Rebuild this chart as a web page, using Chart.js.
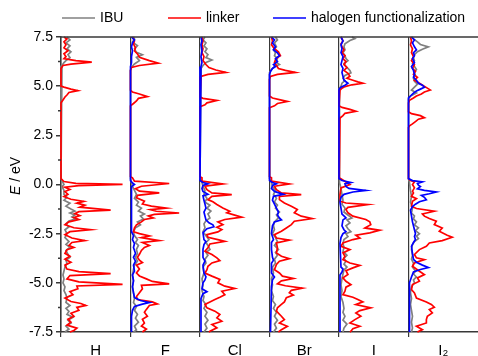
<!DOCTYPE html>
<html lang="en">
<head>
<meta charset="UTF-8">
<title>Projected density of states</title>
<script src="https://cdn.jsdelivr.net/npm/chart.js"></script>
<style>
  body { margin: 0; background: #ffffff; }
  canvas { display: block; }
</style>
</head>
<body>
<canvas id="dosChart" width="478" height="356"></canvas>
<script>
const panels = ['H', 'F', 'Cl', 'Br', 'I', 'I₂'];
const seriesNames = ['IBU', 'linker', 'halogen functionalization'];
const seriesColors = ['#808080', '#ff0000', '#0000ff'];
const energyTicks = [-7.5, -5, -2.5, 0, 2.5, 5, 7.5];
const minorTicks = [-6.25, -3.75, -1.25, 1.25, 3.75, 6.25];

// each series is a list of [energy in eV, DOS] pairs, top to bottom
const hIbu = [[7.5,0.6],[7.35,0.9],[7.2,0.5],[7.05,0.9],[6.9,0.6],[6.75,1.0],[6.6,0.7],[6.45,0.9],[6.3,0.5],[6.2,0.3],[6.05,0.1],[5.9,0],
  [0.3,0],[0.1,0.2],[0.0,0.3],[-0.1,0.1],[-0.3,0.3],[-0.5,0.3],[-0.65,0.6],[-0.8,0.3],[-0.95,0.9],[-1.1,0.5],[-1.25,1.0],[-1.35,1.4],[-1.45,0.9],[-1.55,1.4],[-1.65,1.1],[-1.75,1.5],[-1.85,0.8],[-2.0,0.5],[-2.15,0.8],[-2.3,0.4],[-2.5,0.6],[-2.7,0.4],[-2.9,0.8],[-3.05,0.5],[-3.2,0.9],[-3.35,0.5],[-3.55,0.7],[-3.7,0.9],[-3.85,0.5],[-4.0,0.6],[-4.2,0.4],[-4.4,0.3],[-4.6,0.2],[-4.8,0.3],[-5.0,0.2],[-5.2,0.4],[-5.4,0.3],[-5.6,0.5],[-5.8,0.6],[-6.0,0.5],[-6.15,0.9],[-6.3,0.5],[-6.45,0.8],[-6.6,0.6],[-6.75,1.2],[-6.9,0.7],[-7.05,1.0],[-7.2,0.5],[-7.35,0.8],[-7.5,0.4]];
const hLinker = [[7.5,0.3],[7.4,0.6],[7.25,0.3],[7.1,0.5],[6.95,0.3],[6.8,0.7],[6.65,0.3],[6.5,0.5],[6.4,0.3],[6.3,1.5],[6.22,3.1],[6.12,1.0],[6.05,0.2],[5.9,0],
  [5.0,0],[4.95,0.3],[4.85,1.0],[4.77,1.7],[4.68,0.8],[4.55,0.6],[4.45,0.4],[4.3,0.2],[4.15,0],
  [0.3,0],[0.15,0.3],[0.06,1.5],[0.01,6.2],[-0.06,1.8],[-0.14,0.4],[-0.25,0.9],[-0.36,0.4],[-0.5,0.7],[-0.62,0.3],[-0.75,1.0],[-0.86,2.3],[-0.95,1.6],[-1.05,2.4],[-1.15,1.9],[-1.3,5.0],[-1.38,1.8],[-1.48,1.4],[-1.58,1.9],[-1.68,1.3],[-1.78,1.8],[-1.9,0.8],[-2.05,0.4],[-2.2,1.3],[-2.3,3.0],[-2.4,0.9],[-2.55,0.4],[-2.72,1.1],[-2.85,2.4],[-2.95,1.1],[-3.1,0.8],[-3.2,1.3],[-3.32,0.6],[-3.5,0.4],[-3.65,0.9],[-3.8,0.4],[-3.95,1.0],[-4.1,0.4],[-4.3,0.6],[-4.43,1.8],[-4.53,5.0],[-4.63,0.9],[-4.8,0.6],[-4.95,1.8],[-5.08,6.2],[-5.16,1.6],[-5.3,1.7],[-5.45,0.9],[-5.6,1.2],[-5.78,0.4],[-5.95,1.0],[-6.05,2.0],[-6.15,2.5],[-6.25,1.6],[-6.4,1.8],[-6.55,1.0],[-6.7,1.3],[-6.85,0.7],[-7.0,1.0],[-7.15,0.6],[-7.3,1.6],[-7.42,1.3],[-7.5,0.9]];

const fIbu = [[7.5,0.3],[7.4,0.4],[7.24,0.2],[7.06,0.7],[6.9,0.4],[6.72,0.6],[6.6,1.2],[6.47,0.6],[6.3,0.9],[6.13,0.4],[5.96,0.1],[5.8,0],
  [0.3,0],[0.1,0.1],[-0.1,0.2],[-0.3,0.4],[-0.5,0.6],[-0.7,0.4],[-0.9,0.8],[-1.05,0.6],[-1.2,1.1],[-1.35,0.8],[-1.5,1.4],[-1.6,1.0],[-1.75,1.3],[-1.9,0.7],[-2.05,1.0],[-2.2,0.5],[-2.4,0.3],[-2.6,0.4],[-2.8,0.7],[-2.95,0.5],[-3.1,0.8],[-3.3,0.6],[-3.5,0.7],[-3.7,0.5],[-3.9,0.7],[-4.1,0.4],[-4.3,0.3],[-4.6,0.2],[-4.9,0.3],[-5.2,0.2],[-5.5,0.3],[-5.8,0.4],[-6.0,0.3],[-6.2,0.6],[-6.4,0.4],[-6.6,0.7],[-6.8,0.5],[-7.0,0.8],[-7.2,0.4],[-7.4,0.6],[-7.5,0.3]];
const fLinker = [[7.5,0.2],[7.3,0.4],[7.15,0.3],[6.95,0.5],[6.8,0.4],[6.64,0.7],[6.47,0.9],[6.3,1.9],[6.17,2.8],[6.05,0.9],[5.95,0.1],[5.8,0],
  [4.8,0],[4.7,0.2],[4.6,0.9],[4.47,1.7],[4.38,0.8],[4.25,0.6],[4.12,0.3],[4.0,0],
  [0.4,0],[0.34,0.2],[0.17,0.4],[0.05,3.9],[-0.09,1.1],[-0.21,0.5],[-0.34,0.9],[-0.43,2.9],[-0.55,0.7],[-0.68,0.6],[-0.85,1.4],[-0.99,1.2],[-1.1,2.1],[-1.2,3.6],[-1.28,2.0],[-1.36,2.6],[-1.45,4.9],[-1.52,2.4],[-1.6,1.8],[-1.7,2.3],[-1.78,1.4],[-1.9,1.1],[-2.05,0.6],[-2.2,0.4],[-2.4,0.3],[-2.5,0.9],[-2.62,1.9],[-2.7,1.1],[-2.85,2.9],[-2.95,1.2],[-3.1,1.9],[-3.2,1.4],[-3.35,1.1],[-3.55,0.9],[-3.7,0.7],[-3.85,0.9],[-3.97,1.2],[-4.1,0.6],[-4.3,0.9],[-4.5,0.6],[-4.65,0.9],[-4.8,1.6],[-4.93,2.2],[-5.05,3.9],[-5.13,1.1],[-5.3,1.2],[-5.5,0.9],[-5.7,0.6],[-5.85,0.7],[-5.97,2.2],[-6.07,2.7],[-6.15,1.9],[-6.35,1.6],[-6.5,1.4],[-6.7,1.7],[-6.85,1.2],[-7.05,1.4],[-7.2,1.1],[-7.35,1.6],[-7.5,1.2]];
const fHalogen = [[7.5,0.1],[7.35,0.4],[7.2,0.2],[7.0,0.1],[6.8,0.2],[6.5,0.1],[6.2,0.1],[6.0,0],
  [0.2,0],[0.08,0.2],[0.0,0.4],[-0.1,0.1],[-0.4,0.1],[-1.0,0.1],[-2.4,0.1],[-2.6,0.3],[-2.8,0.2],[-3.0,0.4],[-3.2,0.3],[-3.5,0.5],[-3.7,0.3],[-3.9,0.5],[-4.1,0.3],[-4.4,0.4],[-4.6,0.2],[-4.9,0.3],[-5.2,0.2],[-5.5,0.3],[-5.75,0.4],[-5.9,1.0],[-6.0,1.9],[-6.08,1.2],[-6.2,0.4],[-6.4,0.2],[-6.7,0.1],[-7.5,0.1]];

const clIbu = [[7.5,0.5],[7.35,0.3],[7.2,0.6],[7.05,0.4],[6.9,0.7],[6.75,0.5],[6.6,0.8],[6.45,0.6],[6.33,1.2],[6.2,0.6],[6.05,0.3],[5.9,0.1],[5.7,0],
  [0.3,0],[0.1,0.2],[-0.1,0.3],[-0.3,0.5],[-0.5,0.4],[-0.7,0.7],[-0.9,0.5],[-1.05,1.0],[-1.2,0.7],[-1.35,1.1],[-1.5,0.8],[-1.7,1.0],[-1.85,0.6],[-2.0,0.4],[-2.2,0.5],[-2.4,0.3],[-2.6,0.6],[-2.8,0.9],[-2.95,0.6],[-3.1,0.8],[-3.3,1.0],[-3.45,0.6],[-3.6,0.8],[-3.8,0.5],[-4.0,0.6],[-4.2,0.3],[-4.5,0.4],[-4.8,0.2],[-5.1,0.3],[-5.4,0.2],[-5.7,0.4],[-5.9,0.3],[-6.1,0.6],[-6.3,0.4],[-6.5,0.7],[-6.7,0.5],[-6.9,0.8],[-7.1,0.5],[-7.3,0.7],[-7.5,0.4]];
const clLinker = [[7.5,0.2],[7.3,0.3],[7.1,0.2],[6.9,0.3],[6.7,0.2],[6.5,0.4],[6.3,0.3],[6.1,0.6],[5.95,0.9],[5.82,1.6],[5.7,2.6],[5.6,0.8],[5.5,0.1],[5.35,0],
  [4.45,0],[4.38,0.3],[4.27,1.7],[4.15,0.7],[4.05,0.5],[3.95,0],
  [0.4,0],[0.34,0.2],[0.17,0.2],[0.03,2.3],[-0.09,0.5],[-0.26,0.7],[-0.43,1.2],[-0.51,3.2],[-0.6,1.2],[-0.77,0.8],[-0.88,1.3],[-1.02,1.7],[-1.19,2.3],[-1.36,3.0],[-1.44,2.7],[-1.56,3.5],[-1.66,4.2],[-1.78,2.5],[-1.9,1.8],[-2.04,2.3],[-2.17,1.7],[-2.29,2.2],[-2.41,1.8],[-2.55,0.7],[-2.68,0.8],[-2.8,1.8],[-2.89,2.5],[-3.02,1.0],[-3.22,0.8],[-3.39,0.5],[-3.56,1.2],[-3.73,1.7],[-3.87,2.0],[-3.99,1.2],[-4.16,0.8],[-4.33,0.7],[-4.5,0.5],[-4.66,1.2],[-4.83,2.0],[-5.0,1.8],[-5.17,2.5],[-5.29,3.5],[-5.43,2.2],[-5.6,2.5],[-5.73,2.0],[-5.85,1.5],[-5.97,1.0],[-6.1,0.5],[-6.27,0.7],[-6.44,1.5],[-6.61,2.0],[-6.78,1.7],[-6.95,2.2],[-7.12,1.2],[-7.29,1.7],[-7.46,1.0],[-7.5,0.9]];
const clHalogen = [[7.5,0.1],[7.3,0.2],[7.1,0.1],[6.8,0.2],[6.5,0.1],[6.2,0.2],[6.0,0.1],[5.8,0],
  [0.2,0],[0.1,0.3],[0.03,0.8],[-0.05,0.3],[-0.2,0.2],[-0.35,0.3],[-0.5,0.8],[-0.58,0.3],[-0.8,0.4],[-1.0,0.5],[-1.2,0.6],[-1.4,0.4],[-1.6,0.5],[-1.8,0.6],[-1.95,0.9],[-2.05,1.3],[-2.15,1.4],[-2.25,0.7],[-2.45,0.3],[-2.8,0.4],[-2.9,0.6],[-3.05,0.4],[-3.3,0.3],[-3.7,0.3],[-3.9,0.5],[-4.1,0.3],[-4.5,0.4],[-4.7,0.6],[-4.85,0.5],[-5.0,0.3],[-5.3,0.2],[-5.45,0.7],[-5.55,0.3],[-5.8,0.1],[-7.5,0.1]];

const brIbu = [[7.5,0.6],[7.35,0.8],[7.2,0.5],[7.0,0.7],[6.85,0.4],[6.7,0.6],[6.55,0.5],[6.4,0.8],[6.25,0.6],[6.1,1.0],[6.0,0.5],[5.85,0.2],[5.7,0],
  [0.3,0],[0.1,0.2],[-0.1,0.3],[-0.3,0.6],[-0.5,0.4],[-0.7,0.7],[-0.9,0.5],[-1.05,0.8],[-1.2,0.6],[-1.4,1.0],[-1.55,0.7],[-1.7,0.9],[-1.9,0.5],[-2.1,0.4],[-2.3,0.5],[-2.5,0.3],[-2.7,0.6],[-2.9,0.8],[-3.1,0.5],[-3.3,0.9],[-3.45,0.6],[-3.6,0.8],[-3.8,0.5],[-4.0,0.6],[-4.2,0.3],[-4.5,0.4],[-4.8,0.2],[-5.1,0.3],[-5.4,0.2],[-5.7,0.4],[-5.9,0.3],[-6.1,0.6],[-6.3,0.4],[-6.5,0.7],[-6.7,0.5],[-6.9,0.8],[-7.1,0.5],[-7.3,0.7],[-7.5,0.4]];
const brLinker = [[7.5,0.2],[7.3,0.3],[7.1,0.2],[6.9,0.5],[6.75,0.9],[6.55,1.1],[6.45,0.8],[6.35,0.6],[6.2,0.5],[6.05,0.7],[5.9,0.9],[5.8,1.6],[5.7,2.6],[5.6,0.8],[5.5,0.1],[5.35,0],
  [4.5,0],[4.4,0.3],[4.3,1.1],[4.22,1.8],[4.12,0.8],[4.0,0.5],[3.9,0],
  [0.4,0],[0.34,0.2],[0.17,0.2],[0.03,2.0],[-0.09,0.5],[-0.26,0.7],[-0.43,1.2],[-0.51,3.2],[-0.61,1.0],[-0.77,1.0],[-0.94,1.5],[-1.11,2.2],[-1.27,2.8],[-1.44,2.5],[-1.61,3.2],[-1.73,4.3],[-1.87,2.5],[-2.04,2.2],[-2.21,1.7],[-2.38,1.2],[-2.55,0.5],[-2.72,0.7],[-2.83,2.0],[-2.97,0.7],[-3.22,0.8],[-3.48,0.7],[-3.65,1.2],[-3.77,2.0],[-3.9,1.0],[-4.07,0.7],[-4.33,0.5],[-4.5,1.0],[-4.66,1.3],[-4.78,2.4],[-4.9,1.2],[-5.05,0.8],[-5.15,1.6],[-5.27,3.3],[-5.38,2.2],[-5.5,2.0],[-5.62,2.4],[-5.75,1.7],[-5.97,1.5],[-6.1,1.2],[-6.27,0.8],[-6.44,0.7],[-6.7,1.2],[-6.87,1.5],[-7.04,1.0],[-7.21,1.8],[-7.38,1.2],[-7.5,0.9]];
const brHalogen = [[7.5,0.2],[7.35,0.5],[7.2,0.3],[7.0,0.6],[6.85,0.4],[6.7,0.8],[6.55,1.0],[6.4,0.6],[6.25,0.8],[6.1,0.4],[6.0,0.6],[5.9,0.3],[5.75,0.1],[5.6,0],
  [0.2,0],[0.1,0.3],[0.03,0.7],[-0.05,0.3],[-0.2,0.2],[-0.35,0.5],[-0.5,1.4],[-0.6,0.4],[-0.8,0.3],[-1.0,0.5],[-1.2,0.7],[-1.4,0.9],[-1.55,0.8],[-1.7,1.0],[-1.8,1.2],[-1.9,0.5],[-2.1,0.3],[-2.5,0.2],[-2.8,0.4],[-2.95,0.2],[-3.3,0.2],[-3.7,0.3],[-3.85,0.4],[-4.0,0.2],[-4.5,0.2],[-4.7,0.5],[-4.85,0.3],[-5.2,0.2],[-7.5,0.1]];

const iIbu = [[7.5,1.3],[7.42,1.6],[7.32,1.1],[7.15,0.6],[7.0,0.5],[6.85,0.6],[6.7,0.4],[6.55,0.6],[6.4,0.7],[6.3,0.9],[6.15,0.5],[6.0,0.7],[5.9,0.9],[5.8,1.1],[5.68,1.2],[5.55,0.6],[5.4,0.4],[5.28,0.6],[5.15,0.3],[5.0,0.2],[4.85,0],
  [0.3,0],[0.1,0.1],[-0.2,0.2],[-0.5,0.3],[-0.8,0.4],[-1.0,0.3],[-1.2,0.6],[-1.4,0.5],[-1.55,0.9],[-1.7,1.3],[-1.8,0.8],[-1.95,1.1],[-2.1,0.7],[-2.25,0.9],[-2.4,1.2],[-2.5,0.7],[-2.65,0.9],[-2.8,0.5],[-3.0,0.4],[-3.2,0.5],[-3.4,0.4],[-3.6,0.8],[-3.75,0.5],[-3.9,0.7],[-4.05,0.5],[-4.2,0.8],[-4.35,0.5],[-4.55,0.4],[-4.8,0.3],[-5.1,0.2],[-5.4,0.3],[-5.7,0.2],[-6.0,0.4],[-6.3,0.5],[-6.5,0.4],[-6.7,0.6],[-6.9,0.4],[-7.1,0.8],[-7.3,0.5],[-7.5,0.4]];
const iLinker = [[7.5,0.2],[7.3,0.4],[7.15,0.2],[7.0,0.3],[6.85,0.5],[6.7,0.3],[6.55,0.6],[6.4,0.4],[6.25,0.7],[6.1,0.5],[5.95,0.8],[5.8,0.5],[5.65,0.9],[5.5,1.1],[5.4,0.8],[5.3,1.4],[5.22,1.9],[5.15,2.4],[5.07,1.3],[4.98,0.6],[4.9,0.3],[4.8,0.1],[4.7,0],
  [4.0,0],[3.92,0.3],[3.82,1.1],[3.72,1.7],[3.62,0.6],[3.5,0.4],[3.38,0.1],[3.3,0],
  [0.4,0],[0.34,0.1],[0.13,0.7],[0.0,1.1],[-0.17,0.2],[-0.51,0.1],[-0.85,0.1],[-0.94,0.7],[-1.02,2.9],[-1.16,0.9],[-1.27,0.7],[-1.44,0.9],[-1.61,1.4],[-1.78,2.7],[-1.9,3.1],[-2.04,3.2],[-2.21,2.6],[-2.33,4.1],[-2.46,3.1],[-2.58,1.7],[-2.72,2.1],[-2.8,1.4],[-2.97,0.4],[-3.14,0.2],[-3.31,1.1],[-3.48,0.4],[-3.65,0.6],[-3.82,0.4],[-3.99,1.1],[-4.11,2.1],[-4.24,1.4],[-4.38,0.7],[-4.58,0.9],[-4.75,0.4],[-4.92,0.7],[-5.09,1.2],[-5.22,0.7],[-5.43,0.6],[-5.6,0.4],[-5.73,1.4],[-5.85,1.9],[-5.97,2.4],[-6.1,1.7],[-6.27,3.2],[-6.41,2.1],[-6.53,1.7],[-6.7,2.2],[-6.87,1.6],[-7.04,1.1],[-7.21,2.1],[-7.33,1.4],[-7.46,1.2],[-7.5,1.1]];
const iHalogen = [[7.5,0.2],[7.3,0.4],[7.1,0.2],[6.9,0.3],[6.7,0.2],[6.5,0.4],[6.3,0.3],[6.1,0.2],[5.9,0.4],[5.7,0.3],[5.5,0.4],[5.3,0.5],[5.15,0.9],[5.05,0.6],[4.95,0.2],[4.85,0],
  [0.3,0],[0.2,0.3],[0.1,1.2],[0.03,0.6],[-0.1,0.7],[-0.2,1.0],[-0.3,2.7],[-0.38,1.4],[-0.5,0.5],[-0.65,0.2],[-0.9,0.1],[-1.2,0.2],[-1.5,0.3],[-1.6,0.5],[-1.7,0.7],[-1.8,0.4],[-2.1,0.3],[-2.3,0.5],[-2.4,0.7],[-2.5,0.4],[-2.7,0.2],[-3.0,0.1],[-4.2,0.2],[-4.3,0.4],[-4.45,0.3],[-4.6,0.1],[-7.5,0.1]];

const i2Ibu = [[7.5,0.3],[7.4,0.5],[7.25,0.9],[7.12,1.2],[7.0,2.0],[6.88,1.4],[6.75,0.9],[6.6,0.6],[6.45,0.5],[6.3,0.6],[6.15,0.4],[6.0,0.6],[5.85,0.8],[5.7,0.6],[5.55,0.7],[5.4,0.5],[5.25,0.6],[5.1,0.9],[4.95,0.6],[4.8,0.3],[4.65,0.8],[4.5,0.2],[4.35,0],
  [0.3,0],[0.1,0.1],[-0.3,0.2],[-0.6,0.3],[-0.9,0.2],[-1.2,0.4],[-1.45,0.3],[-1.6,0.6],[-1.75,0.5],[-1.9,0.8],[-2.05,0.6],[-2.2,1.0],[-2.35,0.7],[-2.5,1.1],[-2.62,0.8],[-2.75,1.0],[-2.9,0.6],[-3.05,0.4],[-3.3,0.3],[-3.6,0.4],[-3.8,0.3],[-4.0,0.5],[-4.2,0.4],[-4.4,0.7],[-4.55,0.5],[-4.7,0.8],[-4.85,0.5],[-5.0,0.6],[-5.2,0.3],[-5.5,0.2],[-5.8,0.3],[-6.1,0.2],[-6.4,0.3],[-6.7,0.4],[-7.0,0.3],[-7.3,0.4],[-7.5,0.3]];
const i2Linker = [[7.5,0.2],[7.3,0.3],[7.1,0.2],[6.9,0.4],[6.7,0.3],[6.5,0.5],[6.3,0.3],[6.1,0.6],[5.9,0.4],[5.75,0.7],[5.6,0.5],[5.45,0.9],[5.3,0.6],[5.15,1.1],[5.02,1.5],[4.9,1.9],[4.8,2.2],[4.7,1.6],[4.6,1.3],[4.5,0.8],[4.4,0.5],[4.28,0.1],[4.15,0],
  [3.7,0],[3.6,0.3],[3.5,1.2],[3.4,1.6],[3.32,1.0],[3.2,0.7],[3.08,0.4],[2.98,0.1],[2.9,0],
  [0.3,0],[0.2,0.2],[0.13,0.6],[0.0,0.4],[-0.17,0.6],[-0.34,0.4],[-0.43,0.5],[-0.6,0.3],[-0.72,0.8],[-0.85,0.4],[-1.11,0.3],[-1.22,0.8],[-1.36,2.6],[-1.5,1.4],[-1.61,1.6],[-1.73,2.1],[-1.87,2.8],[-2.04,2.6],[-2.21,3.4],[-2.38,3.1],[-2.58,3.9],[-2.68,4.4],[-2.85,3.4],[-2.97,2.1],[-3.14,1.8],[-3.31,1.1],[-3.56,0.6],[-3.73,0.8],[-3.82,1.6],[-3.99,0.6],[-4.16,0.4],[-4.41,1.1],[-4.58,1.6],[-4.75,0.9],[-4.92,1.1],[-5.09,0.4],[-5.34,0.3],[-5.51,0.6],[-5.77,0.8],[-5.97,1.8],[-6.1,2.3],[-6.24,2.6],[-6.36,2.1],[-6.53,2.4],[-6.7,1.9],[-6.87,1.8],[-7.04,1.8],[-7.21,0.8],[-7.38,1.4],[-7.5,0.9]];
const i2Halogen = [[7.5,0.3],[7.35,0.6],[7.2,0.4],[7.0,0.6],[6.85,0.8],[6.7,0.5],[6.55,0.6],[6.4,0.4],[6.2,0.6],[6.0,0.3],[5.8,0.5],[5.6,0.6],[5.45,0.5],[5.3,0.8],[5.15,1.0],[5.05,1.4],[4.95,1.6],[4.85,1.2],[4.75,0.8],[4.65,0.5],[4.5,0.2],[4.4,0],
  [0.3,0],[0.2,0.4],[0.13,1.4],[0.05,0.9],[-0.03,1.0],[-0.1,1.2],[-0.22,0.9],[-0.3,1.6],[-0.38,2.8],[-0.47,2.1],[-0.55,1.3],[-0.65,1.6],[-0.78,1.8],[-0.88,1.1],[-1.0,0.7],[-1.12,0.4],[-1.3,0.2],[-1.6,0.3],[-1.9,0.4],[-2.1,0.5],[-2.3,0.6],[-2.5,0.7],[-2.65,0.6],[-2.8,0.7],[-2.95,0.5],[-3.15,0.3],[-3.5,0.4],[-3.8,0.5],[-3.95,0.8],[-4.1,1.4],[-4.22,2.0],[-4.32,1.2],[-4.45,0.5],[-4.7,0.3],[-5.0,0.1],[-7.5,0.1]];

// IBU, linker, halogen per panel (H has no halogen part)
const panelSeries = [
  [hIbu, hLinker, null],
  [fIbu, fLinker, fHalogen],
  [clIbu, clLinker, clHalogen],
  [brIbu, brLinker, brHalogen],
  [iIbu, iLinker, iHalogen],
  [i2Ibu, i2Linker, i2Halogen]
];

const frameColor = '#383838';
const fontFamily = '"Liberation Sans", Arial, sans-serif';
const lineWidth = 1.7;
Chart.defaults.font.family = fontFamily;
Chart.defaults.font.size = 14;
Chart.defaults.color = '#000000';

const datasets = [];
panelSeries.forEach((group, p) => {
  group.forEach((pts, s) => {
    if (!pts) return;
    datasets.push({
      label: seriesNames[s],
      data: pts.map(([e, dos]) => ({ x: dos, y: e })),
      xAxisID: 'x' + p,
      yAxisID: 'y',
      showLine: true,
      borderColor: seriesColors[s],
      borderWidth: lineWidth,
      pointRadius: 0,
      tension: 0,
      clip: 2,
      order: 2 - s
    });
  });
});

const scales = {
  y: {
    type: 'linear',
    position: 'left',
    min: -7.5,
    max: 7.5,
    afterBuildTicks: scale => { scale.ticks = energyTicks.map(v => ({ value: v })); },
    afterFit: scale => { scale.width = 61; },
    ticks: { callback: v => v.toFixed(1), padding: 3, font: { size: 14 } },
    grid: { drawOnChartArea: false, tickLength: 5, color: frameColor, lineWidth: 1.5 },
    border: { color: frameColor, width: 1.5 }
  }
};
panels.forEach((name, p) => {
  scales['x' + p] = {
    type: 'linear',
    position: 'bottom',
    stack: 'panels',
    stackWeight: 1,
    min: 0,
    max: 7,
    afterBuildTicks: scale => { scale.ticks = [{ value: 0 }]; },
    afterFit: scale => { scale.height = 24; },
    ticks: { display: false },
    grid: { color: frameColor, lineWidth: 1.2, tickLength: 5 },
    border: { color: frameColor, width: 1.5 },
    title: { display: true, text: name, font: { size: 15 }, padding: { top: 0, bottom: -4 } }
  };
});

// top frame line, minor ticks, axis title and legend are drawn by hand
const decorations = {
  id: 'decorations',
  afterDraw(chart) {
    const { ctx, chartArea } = chart;
    const yScale = chart.scales.y;
    ctx.save();
    ctx.strokeStyle = frameColor;
    ctx.lineWidth = 1.5;
    ctx.beginPath();
    ctx.moveTo(chartArea.left, chartArea.top);
    ctx.lineTo(chartArea.right, chartArea.top);
    minorTicks.forEach(v => {
      const py = yScale.getPixelForValue(v);
      ctx.moveTo(chartArea.left - 3, py);
      ctx.lineTo(chartArea.left, py);
    });
    ctx.stroke();

    // y title: italic E, upright unit
    ctx.fillStyle = '#000000';
    ctx.textBaseline = 'middle';
    ctx.translate(16, 176);
    ctx.rotate(-Math.PI / 2);
    ctx.font = 'italic 14px ' + fontFamily;
    const wE = ctx.measureText('E').width;
    ctx.font = '14px ' + fontFamily;
    const unit = ' / eV';
    const wU = ctx.measureText(unit).width;
    const tx = -(wE + wU) / 2;
    ctx.font = 'italic 14px ' + fontFamily;
    ctx.fillText('E', tx, 0);
    ctx.font = '14px ' + fontFamily;
    ctx.fillText(unit, tx + wE, 0);
    ctx.restore();

    // legend row
    ctx.save();
    ctx.font = '14px ' + fontFamily;
    ctx.textBaseline = 'middle';
    ctx.fillStyle = '#000000';
    const starts = [62, 168, 273];
    const ly = 18;
    seriesNames.forEach((name, s) => {
      const x0 = starts[s];
      ctx.strokeStyle = seriesColors[s];
      ctx.lineWidth = lineWidth;
      ctx.beginPath();
      ctx.moveTo(x0, ly);
      ctx.lineTo(x0 + 33, ly);
      ctx.stroke();
      ctx.fillText(name, x0 + 38, ly);
    });
    ctx.restore();
  }
};

new Chart(document.getElementById('dosChart'), {
  type: 'scatter',
  data: { datasets },
  options: {
    responsive: false,
    animation: false,
    layout: { padding: { top: 37, left: 0, right: -1, bottom: 0 } },
    plugins: { legend: { display: false }, tooltip: { enabled: false } },
    scales
  },
  plugins: [decorations]
});
</script>
</body>
</html>
